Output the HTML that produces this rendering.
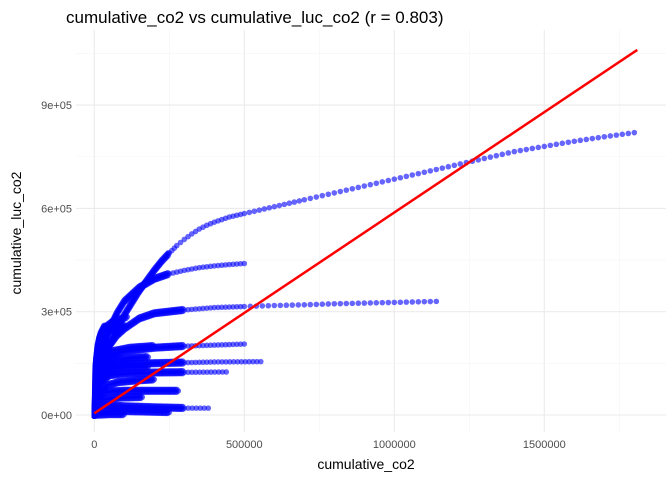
<!DOCTYPE html>
<html><head><meta charset="utf-8"><style>
body{margin:0;background:#fff;font-family:"Liberation Sans",sans-serif}
</style></head><body>
<svg id="c" width="672" height="480" xmlns="http://www.w3.org/2000/svg">
<text x="66" y="23" font-size="17" fill="#000">cumulative_co2 vs cumulative_luc_co2 (r = 0.803)</text>
<g id="grid"></g><g id="pts"></g><g id="ax"></g>
<text x="366" y="469" font-size="14" text-anchor="middle" fill="#000">cumulative_co2</text>
<text transform="translate(21,233) rotate(-90)" font-size="14" text-anchor="middle" fill="#000">cumulative_luc_co2</text>
</svg>
<script>
// values in thousands
const xTicks=[0,500000,1000000,1500000];
const xTickLabels=["0","500000","1000000","1500000"];
const yTicks=[0,300000,600000,900000];
const yTickLabels=["0e+00","3e+05","6e+05","9e+05"];
const seriesA=[[0,0],[10,60],[20,100],[35,150],[50,200],[75,250],[100,290],[125,325],[150,360],[175,390],[200,420],[225,447],[250,470],[275,492],[300,510],[325,526],[350,540],[375,551],[400,560],[450,575],[500,585],[550,595],[600,605],[650,615],[700,625],[800,645],[900,665],[1000,685],[1100,705],[1200,725],[1300,745],[1400,765],[1500,780],[1600,795],[1700,808],[1800,820]];
const seriesB=[[0,0],[10,100],[20,150],[35,200],[50,250],[75,295],[100,330],[150,370],[200,395],[250,410],[300,420],[350,428],[400,433],[450,437],[500,440]];
const seriesC=[[0,0],[10,80],[20,120],[35,170],[50,200],[75,230],[100,250],[150,280],[200,295],[300,305],[400,312],[500,315],[600,318],[700,320],[800,323],[900,325],[1000,327],[1140,330]];
const seriesD=[[0,0],[10,80],[20,120],[50,170],[100,185],[200,195],[300,200],[400,203],[500,206]];
const seriesE=[[0,0],[10,60],[20,100],[50,140],[100,148],[200,150],[300,152],[400,154],[555,155]];
const seriesF=[[0,0],[10,50],[20,90],[50,115],[100,120],[200,123],[300,124],[440,125]];
const seriesG=[[0,0],[10,40],[20,60],[50,68],[100,70],[200,70],[280,70]];
const seriesH=[[0,0],[15,25],[30,30],[100,25],[200,22],[300,20],[380,20]];
const seriesI=[[0,0],[50,2],[100,2]];
const seriesJ=[[0,0],[5,120],[20,200],[45,240],[70,255],[100,262]];
const seriesK=[[0,0],[15,50],[40,85],[80,95],[140,100],[200,103]];
const seriesL=[[0,0],[3,140],[10,200],[20,235],[35,260]];
const seriesM=[[0,0],[5,160],[15,220],[30,250],[60,270],[110,285]];
const seriesN=[[0,0],[8,100],[25,160],[60,185],[120,195],[200,200]];
const seriesO=[[0,0],[6,70],[20,110],[50,130],[100,138],[180,140]];
const seriesP=[[0,0],[4,90],[12,150],[30,175],[70,180]];
const seriesQ=[[0,0],[10,30],[30,45],[80,50],[160,52]];
const seriesR=[[0,0],[20,10],[60,12],[150,10],[250,8]];
const seriesS=[[0,0],[2,60],[8,110],[20,130],[40,135]];
const seriesT=[[0,0],[30,140],[70,160],[120,165],[180,168]];
const seriesList=[seriesA,seriesB,seriesC,seriesD,seriesE,seriesF,seriesG,seriesH,seriesI,seriesJ,seriesK,seriesL,seriesM,seriesN,seriesO,seriesP,seriesQ,seriesR,seriesS,seriesT];
const regIntercept=5000, regSlope=0.583, regXMax=1810000;

const X=v=>94.3+v/500000*150;
const Y=v=>415-v/300000*103.3;
const NS="http://www.w3.org/2000/svg";
function mk(p,t,a){const e=document.createElementNS(NS,t);for(const k in a)e.setAttribute(k,a[k]);p.appendChild(e);return e;}
const grid=document.getElementById('grid'),pts=document.getElementById('pts'),ax=document.getElementById('ax');
const L=76,R=666,T=30,B=432;
for(let i=0;i<xTicks.length;i++){
 const g=mk(grid,'line',{x1:X(xTicks[i]),x2:X(xTicks[i]),y1:T,y2:B,stroke:'#ebebeb','stroke-width':1.1});
 
 const m=mk(grid,'line',{x1:X(xTicks[i]+250000),x2:X(xTicks[i]+250000),y1:T,y2:B,stroke:'#f4f4f4','stroke-width':0.6});
 
 const t=mk(ax,'text',{x:X(xTicks[i]),y:448,'font-size':11,'text-anchor':'middle',fill:'#4d4d4d'});
 t.textContent=xTickLabels[i];
 
}
for(let i=0;i<yTicks.length;i++){
 const g=mk(grid,'line',{x1:L,x2:R,y1:Y(yTicks[i]),y2:Y(yTicks[i]),stroke:'#ebebeb','stroke-width':1.1});
 
 const m=mk(grid,'line',{x1:L,x2:R,y1:Y(yTicks[i]+150000),y2:Y(yTicks[i]+150000),stroke:'#f4f4f4','stroke-width':0.6});
 
 const t=mk(ax,'text',{x:72,y:Y(yTicks[i])+4,'font-size':11,'text-anchor':'end',fill:'#4d4d4d'});
 t.textContent=yTickLabels[i];
 
}
seriesList.forEach(s=>{
 for(let i=0;i<s.length-1;i++){
  const x0=X(s[i][0]*1000),y0=Y(s[i][1]*1000),x1=X(s[i+1][0]*1000),y1=Y(s[i+1][1]*1000);
  const d=Math.hypot(x1-x0,y1-y0);
  const step=s[i][0]>=500?6:(s[i][0]>=250?4:1.5);
  const n=Math.max(1,Math.round(d/step));
  for(let k=0;k<n;k++){
   const f=k/n;
   const c=mk(pts,'circle',{cx:x0+(x1-x0)*f,cy:y0+(y1-y0)*f+(s[i][0]<250?1.2:0),r:2.8,fill:'#0000ff','fill-opacity':0.6});
   
   if(s[i][0]<250){
    const c2=mk(pts,'circle',{cx:x0+(x1-x0)*f,cy:y0+(y1-y0)*f-1.5,r:2.8,fill:'#0000ff','fill-opacity':0.6});
    
   }
  }
 }
 const l=s[s.length-1];
 const c=mk(pts,'circle',{cx:X(l[0]*1000),cy:Y(l[1]*1000),r:2.8,fill:'#0000ff','fill-opacity':0.6});
 
});
const reg=mk(pts,'line',{x1:X(0),y1:Y(regIntercept),x2:X(regXMax),y2:Y(regIntercept+regSlope*regXMax),stroke:'#ff0000','stroke-width':2.5});

</script>
</body></html>
